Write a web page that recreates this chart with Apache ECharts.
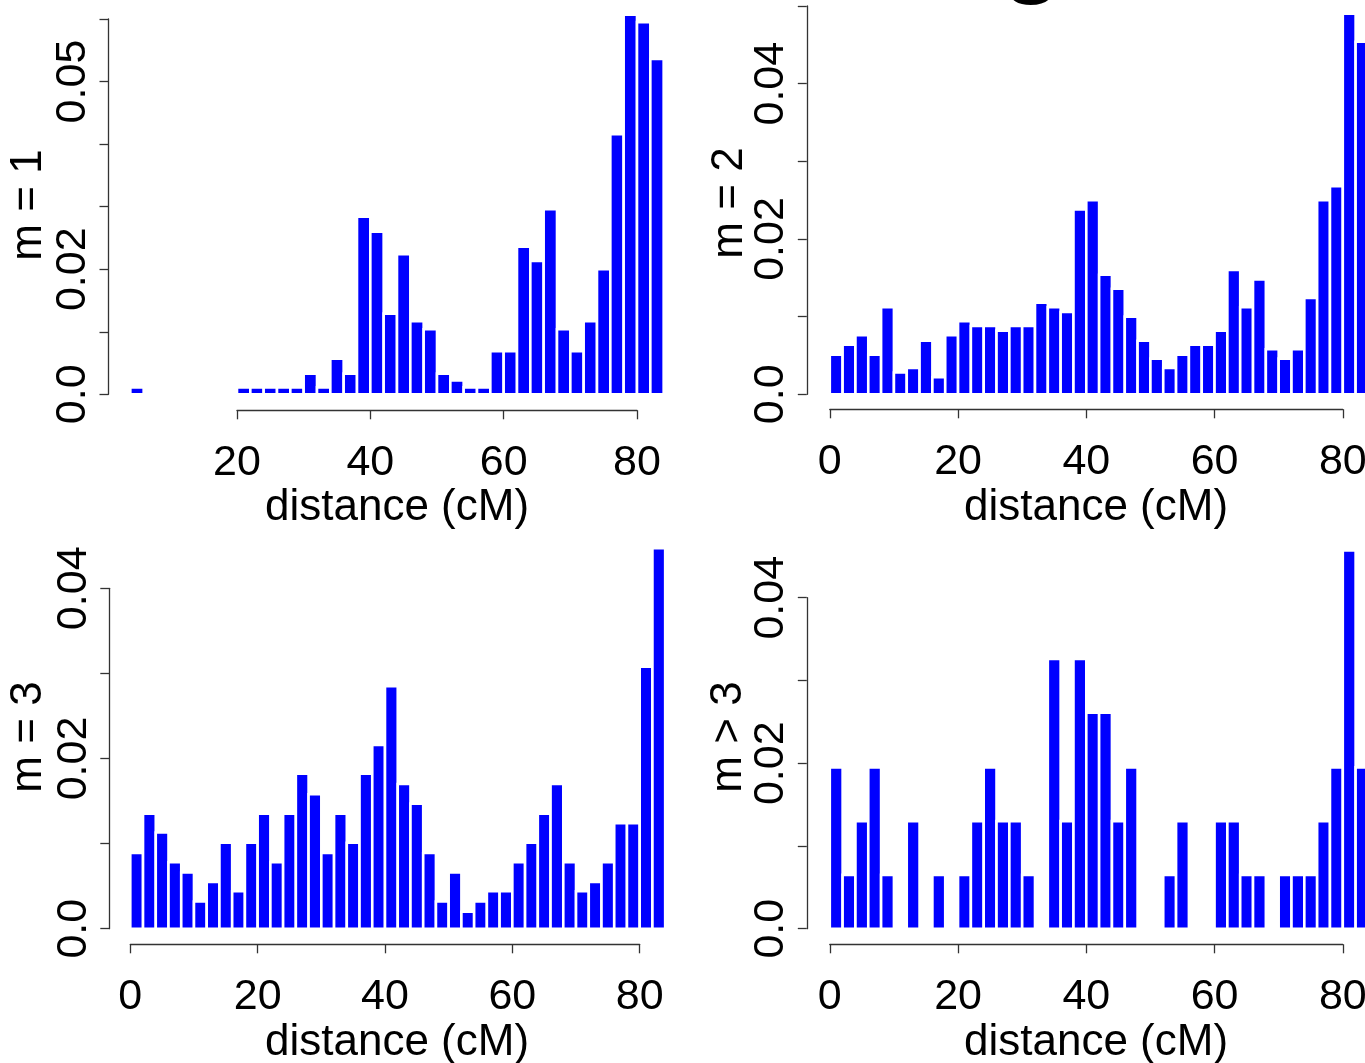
<!DOCTYPE html>
<html><head><meta charset="utf-8">
<script src="https://cdn.jsdelivr.net/npm/echarts@6/dist/echarts.min.js"></script>
<style>html,body{margin:0;padding:0;background:#fff;overflow:hidden}#c{width:1365px;height:1063px}</style>
</head><body><div id="c"></div>
<script>
// ---- data (density per 2 cM bin) ----
const binWidth = 2;
// m = 1 : bins start at 4 cM
const m1Start = 4;
const m1 = [0.0011, 0, 0, 0, 0, 0, 0, 0, 0.0011, 0.0011,
            0.0011, 0.0011, 0.0011, 0.0033, 0.0011, 0.0057, 0.0033, 0.0284, 0.026, 0.0129,
            0.0224, 0.0117, 0.0104, 0.0033, 0.0022, 0.0011, 0.0011, 0.0069, 0.0069, 0.0236,
            0.0213, 0.0296, 0.0104, 0.0069, 0.0117, 0.02, 0.0416, 0.0607, 0.0595, 0.0536];
// m = 2 : bins start at 0 cM
const m2Start = 0;
const m2 = [0.0051, 0.0064, 0.0076, 0.0051, 0.0112, 0.0028, 0.0034, 0.0069, 0.0022, 0.0076,
            0.0094, 0.0088, 0.0088, 0.0082, 0.0088, 0.0088, 0.0118, 0.0112, 0.0106, 0.0238,
            0.025, 0.0154, 0.0136, 0.01, 0.0069, 0.0046, 0.0034, 0.0051, 0.0064, 0.0064,
            0.0082, 0.016, 0.0112, 0.0148, 0.0058, 0.0046, 0.0058, 0.0124, 0.025, 0.0268,
            0.049, 0.0454];
// m = 3
const m3Start = 0;
const m3 = [0.0089, 0.0135, 0.0113, 0.0078, 0.0066, 0.0032, 0.0055, 0.0101, 0.0044, 0.0101,
            0.0135, 0.0078, 0.0135, 0.0182, 0.0158, 0.0089, 0.0135, 0.0101, 0.0182, 0.0216,
            0.0285, 0.017, 0.0147, 0.0089, 0.0032, 0.0066, 0.002, 0.0032, 0.0044, 0.0044,
            0.0078, 0.0101, 0.0135, 0.017, 0.0078, 0.0044, 0.0055, 0.0078, 0.0124, 0.0124,
            0.0308, 0.0447];
// m > 3
const m4Start = 0;
const m4 = [0.0195, 0.0065, 0.013, 0.0195, 0.0065, 0, 0.013, 0, 0.0065, 0,
            0.0065, 0.013, 0.0195, 0.013, 0.013, 0.0065, 0, 0.0326, 0.013, 0.0326,
            0.0261, 0.0261, 0.013, 0.0195, 0, 0, 0.0065, 0.013, 0, 0,
            0.013, 0.013, 0.0065, 0.0065, 0, 0.0065, 0.0065, 0.0065, 0.013, 0.0195,
            0.0457, 0.0195];

const panelNames = ['m = 1', 'm = 2', 'm = 3', 'm > 3'];
const xName = 'distance (cM)';
const yLabVals1 = [0, 0.02, 0.05];
const yLabTxt1 = ['0.0', '0.02', '0.05'];
const yLabVals = [0, 0.02, 0.04];
const yLabTxt = ['0.0', '0.02', '0.04'];

// ---- layout ----
const FONT = 'Liberation Sans';
const FS = 43;
const FSN = 44;
const panels = [
  {h: m1, start: m1Start, left: 237, top: 19, width: 400, height: 375.3, yOff: 128.5, xOff: 16,
   xMin: 20, xMax: 80, yMax: 0.06, lv: yLabVals1, lt: yLabTxt1, nameX: 29, nameY: 205, xnX: 397, xnY: 508},
  {h: m2, start: m2Start, left: 829.8, top: 6, width: 513, height: 388.3, yOff: 23, xOff: 15,
   xMin: 0, xMax: 80, yMax: 0.05, lv: yLabVals, lt: yLabTxt, nameX: 730, nameY: 203, xnX: 1096, xnY: 508},
  {h: m3, start: m3Start, left: 130.3, top: 588.3, width: 509.4, height: 340.4, yOff: 21, xOff: 15.6,
   xMin: 0, xMax: 80, yMax: 0.04, lv: yLabVals, lt: yLabTxt, nameX: 29, nameY: 737, xnX: 397, xnY: 1043},
  {h: m4, start: m4Start, left: 829.8, top: 597.7, width: 513, height: 331, yOff: 23, xOff: 15.6,
   xMin: 0, xMax: 80, yMax: 0.04, lv: yLabVals, lt: yLabTxt, nameX: 729, nameY: 737, xnX: 1096, xnY: 1043}
];

const axisLine = {show: true, onZero: false, lineStyle: {color: '#333', width: 1.3}};
const axisTick = {show: true, length: 9, lineStyle: {color: '#333', width: 1.3}};

const grid = [], xAxis = [], yAxis = [], series = [], graphic = [];
panels.forEach((p, i) => {
  grid.push({left: p.left, top: p.top, width: p.width, height: p.height, outerBoundsMode: 'none', containLabel: false});
  xAxis.push({
    type: 'value', gridIndex: i, min: p.xMin, max: p.xMax, interval: 20,
    offset: p.xOff, splitLine: {show: false}, axisLine, axisTick,
    axisLabel: {fontFamily: FONT, fontSize: FS, color: '#000', margin: 31, showMinLabel: true, showMaxLabel: true}
  });
  yAxis.push({
    type: 'value', gridIndex: i, min: 0, max: p.yMax, interval: 0.01,
    offset: p.yOff, splitLine: {show: false}, axisLine, axisTick,
    axisLabel: {
      fontFamily: FONT, fontSize: FS, color: '#000', rotate: 90, margin: 14,
      showMinLabel: true, showMaxLabel: true, hideOverlap: false,
      formatter: v => { const k = p.lv.findIndex(t => Math.abs(t - v) < 1e-9); return k < 0 ? '' : p.lt[k]; }
    }
  });
  const data = [];
  p.h.forEach((v, k) => { if (v > 0) data.push([p.start + k * binWidth, p.start + (k + 1) * binWidth, v]); });
  series.push({
    type: 'custom', xAxisIndex: i, yAxisIndex: i, clip: false, silent: true,
    data,
    renderItem: (params, api) => {
      const a = api.coord([api.value(0), api.value(2)]);
      const b = api.coord([api.value(1), 0]);
      return {type: 'rect', shape: {x: a[0], y: a[1], width: b[0] - a[0], height: b[1] - a[1]},
              style: {fill: '#0000FF', stroke: '#ffffff', lineWidth: 2.6}};
    }
  });
  graphic.push({type: 'text', x: p.nameX, y: p.nameY, rotation: Math.PI / 2,
    style: {text: panelNames[i], font: FSN + 'px "' + FONT + '"', fill: '#000', align: 'center', verticalAlign: 'middle',
            textAlign: 'center', textVerticalAlign: 'middle'}});
  graphic.push({type: 'text', x: p.xnX, y: p.xnY,
    style: {text: xName, font: FSN + 'px "' + FONT + '"', fill: '#000', align: 'center', verticalAlign: 'middle',
            textAlign: 'center', textVerticalAlign: 'middle'}});
});
// clipped panel letter at the top edge
graphic.push({type: 'text', x: 1032, y: -44,
  style: {text: 'g', font: 'bold 100px "' + FONT + '"', fill: '#000', align: 'center', verticalAlign: 'middle',
          textAlign: 'center', textVerticalAlign: 'middle'}});

const chart = echarts.init(document.getElementById('c'), null, {renderer: 'canvas'});
chart.setOption({animation: false, backgroundColor: '#fff', grid, xAxis, yAxis, series, graphic});
</script></body></html>
